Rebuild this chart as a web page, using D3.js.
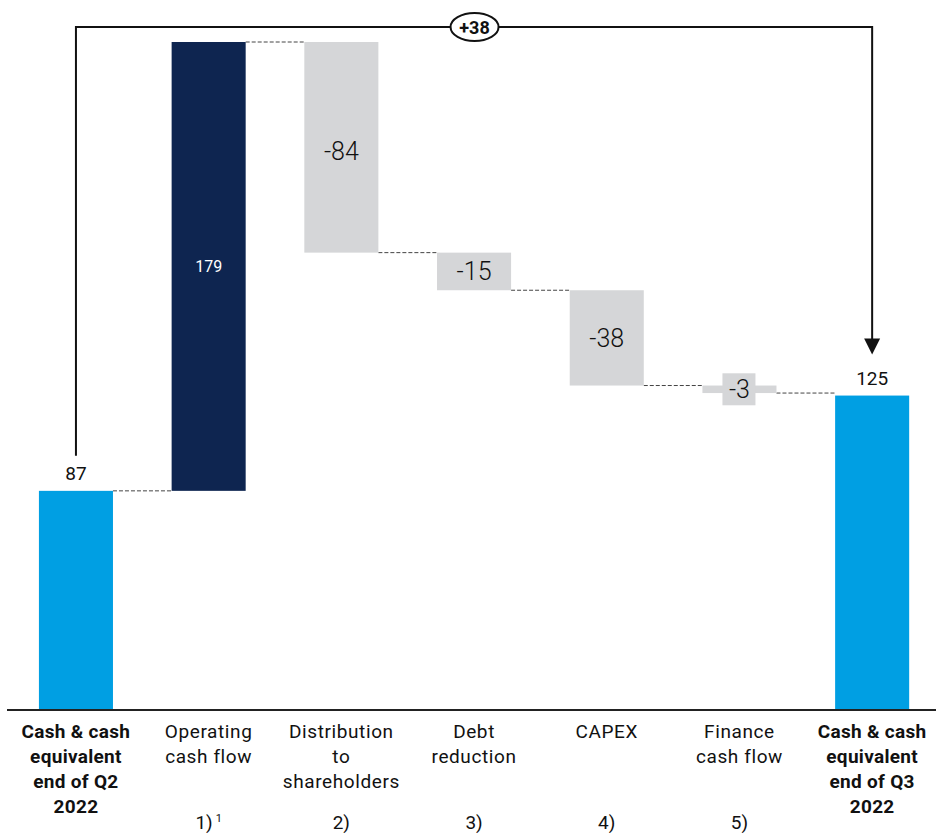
<!DOCTYPE html>
<html>
<head>
<meta charset="utf-8">
<script src="https://cdn.jsdelivr.net/npm/d3@7"></script>
<style>
  body { margin: 0; background: #fff; }
  svg text { font-family: Roboto, "Noto Sans", sans-serif; }
</style>
</head>
<body>
<svg id="chart" width="936" height="833"></svg>
<script>
/* -------------------------------------------------------------------------- */
// chart data
const categories = [
  ['Cash & cash', 'equivalent', 'end of Q2', '2022'],
  ['Operating', 'cash flow'],
  ['Distribution', 'to', 'shareholders'],
  ['Debt', 'reduction'],
  ['CAPEX'],
  ['Finance', 'cash flow'],
  ['Cash & cash', 'equivalent', 'end of Q3', '2022']
];
const footnotes = ['', '1)', '2)', '3)', '4)', '5)', ''];
const values = [87, 179, -84, -15, -38, -3, 125];
const kinds = ['total', 'pos', 'neg', 'neg', 'neg', 'neg', 'total'];
const deltaLabel = '+38';

const colors = { total: '#009FE3', pos: '#0E2550', neg: '#D5D6D8' };

/* -------------------------------------------------------------------------- */
let svg = d3.select('#chart');

let x = d3.scaleBand()
  .domain(d3.range(categories.length))
  .range([9.6, 938.5])
  .paddingInner(0.442)
  .paddingOuter(0.221);

let y = d3.scaleLinear().domain([0, 266]).range([709, 42]);

// running waterfall positions
let run = 0;
let bars = values.map(function (v, i) {
  let d = { i: i, v: v, kind: kinds[i] };
  if (kinds[i] == 'total') { d.y0 = 0; d.y1 = v; run = v; }
  else { d.y0 = run; d.y1 = run + v; run = run + v; }
  return d;
});

// connectors
for (let i = 0; i < bars.length - 1; i++) {
  let lvl = bars[i].y1;
  svg.append('line')
    .attr('x1', x(i) + x.bandwidth()).attr('x2', x(i + 1))
    .attr('y1', y(lvl)).attr('y2', y(lvl))
    .attr('stroke', '#444').attr('stroke-width', 1)
    .attr('stroke-dasharray', '4,2');
}

// bars
svg.selectAll('rect.bar').data(bars).enter().append('rect')
  .attr('class', 'bar')
  .attr('x', d => x(d.i))
  .attr('width', x.bandwidth())
  .attr('y', d => y(Math.max(d.y0, d.y1)))
  .attr('height', d => Math.max(Math.abs(y(d.y0) - y(d.y1)), 1))
  .attr('fill', d => colors[d.kind]);

// value labels
bars.forEach(function (d) {
  let cx = x(d.i) + x.bandwidth() / 2;
  if (d.kind == 'total') {
    svg.append('text').attr('x', cx).attr('y', y(d.y1) - 11)
      .attr('text-anchor', 'middle').attr('font-size', 19).attr('fill', '#111')
      .text(d.v);
  }
  else if (d.kind == 'pos') {
    svg.append('text').attr('x', cx).attr('y', (y(d.y0) + y(d.y1)) / 2 + 6)
      .attr('text-anchor', 'middle').attr('font-size', 16).attr('fill', '#fff')
      .text(d.v);
  }
  else {
    let top = y(d.y0), bot = y(d.y1);
    let cy = (top + bot) / 2 + (bot - top > 100 ? 4 : 0);
    if (bot - top < 30) {
      svg.append('rect').attr('x', cx - 17).attr('y', cy - 16)
        .attr('width', 33).attr('height', 32).attr('fill', colors.neg);
    }
    svg.append('text').attr('x', cx).attr('y', cy + 9)
      .attr('text-anchor', 'middle').attr('font-size', 25)
      .attr('font-weight', 300).attr('fill', '#111')
      .text(d.v);
  }
});

// baseline
svg.append('line').attr('x1', 7).attr('x2', 936)
  .attr('y1', y(0) + 1).attr('y2', y(0) + 1)
  .attr('stroke', '#222').attr('stroke-width', 2);

// category labels
categories.forEach(function (lines, i) {
  let cx = x(i) + x.bandwidth() / 2;
  let bold = kinds[i] == 'total';
  let t = svg.append('text').attr('text-anchor', 'middle')
    .attr('font-size', 19).attr('fill', '#111')
    .attr('letter-spacing', bold ? 0.3 : 0.6)
    .attr('font-weight', bold ? 700 : 400);
  lines.forEach(function (s, k) {
    t.append('tspan').attr('x', cx).attr('y', 738 + k * 25).text(s);
  });
  if (footnotes[i]) {
    let f = svg.append('text').attr('x', cx).attr('y', 829)
      .attr('text-anchor', 'middle').attr('font-size', 19).attr('fill', '#111')
      .text(footnotes[i]);
    if (i == 1) f.append('tspan').attr('font-size', 11).attr('dy', -7).attr('dx', 3).text('1');
  }
});

// delta bracket
let xa = x(0) + x.bandwidth() / 2,
    xb = x(6) + x.bandwidth() / 2,
    ytop = 27;
svg.append('path')
  .attr('d', `M${xa},${y(values[0]) - 35} V${ytop} H${xb} V${y(values[6]) - 56}`)
  .attr('fill', 'none').attr('stroke', '#111').attr('stroke-width', 2);
svg.append('path')
  .attr('d', `M${xb - 8},${y(values[6]) - 57} L${xb + 8},${y(values[6]) - 57} L${xb},${y(values[6]) - 41} Z`)
  .attr('fill', '#111');

let mx = (xa + xb) / 2 + 0.5;
svg.append('ellipse').attr('cx', mx).attr('cy', ytop)
  .attr('rx', 24).attr('ry', 14)
  .attr('fill', '#fff').attr('stroke', '#111').attr('stroke-width', 2);
svg.append('text').attr('x', mx).attr('y', ytop + 6.5)
  .attr('text-anchor', 'middle').attr('font-size', 18).attr('font-weight', 700)
  .attr('fill', '#111').text(deltaLabel);
</script>
</body>
</html>
